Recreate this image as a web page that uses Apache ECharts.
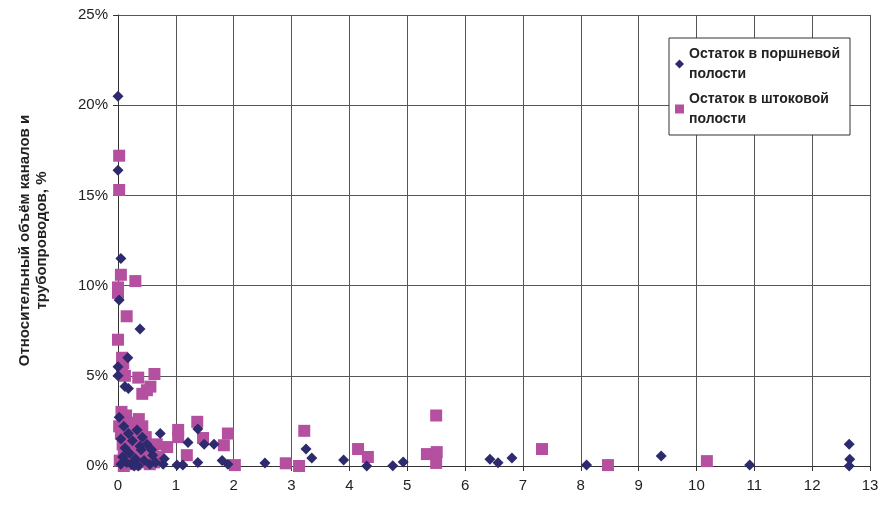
<!DOCTYPE html>
<html>
<head>
<meta charset="utf-8">
<script src="https://cdn.jsdelivr.net/npm/echarts@6/dist/echarts.min.js"></script>
<style>
html, body { margin: 0; padding: 0; background: #fff; }
#chart { width: 882px; height: 509px; }
</style>
</head>
<body>
<div id="chart"></div>
<script>
// остаток в поршневой полости: [x, %]
const pistonData = [
    [0.0, 20.5], [0.0, 16.4], [0.05, 11.5], [0.02, 9.2], [0.38, 7.6],
    [0.17, 6.0], [0.0, 5.5], [0.0, 5.0], [0.12, 4.4], [0.18, 4.3],
    [0.02, 2.7], [0.05, 1.5], [0.08, 0.5], [0.1, 2.2], [0.12, 1.0],
    [0.15, 0.2], [0.18, 1.8], [0.2, 0.7], [0.23, 0.1], [0.25, 1.4],
    [0.3, 0.4], [0.33, 2.0], [0.35, 0.0], [0.4, 0.9], [0.42, 1.6],
    [0.45, 0.3], [0.5, 1.2], [0.55, 0.1], [0.6, 0.6], [0.65, 0.2],
    [0.73, 1.8], [0.78, 0.1], [0.8, 0.4], [0.05, 0.1], [0.28, 0.0],
    [0.38, 1.1], [0.58, 0.9], [1.02, 0.05], [1.12, 0.05], [1.21, 1.3],
    [1.38, 2.05], [1.38, 0.2], [1.49, 1.2], [1.66, 1.2], [1.8, 0.3],
    [1.9, 0.1], [2.54, 0.17], [3.25, 0.94], [3.35, 0.45], [3.9, 0.33],
    [4.3, 0.0], [4.75, 0.02], [4.93, 0.22], [6.43, 0.38], [6.57, 0.18],
    [6.81, 0.45], [8.1, 0.05], [9.39, 0.55], [10.92, 0.05], [12.64, 1.2],
    [12.65, 0.38], [12.64, 0.0]
];
// остаток в штоковой полости: [x, %]
const rodData = [
    [0.02, 17.2], [0.02, 15.3], [0.05, 10.6], [0.3, 10.25], [0.0, 9.9],
    [0.0, 9.6], [0.15, 8.3], [0.0, 7.0], [0.07, 6.0], [0.09, 5.7],
    [0.07, 5.15], [0.12, 5.0], [0.35, 4.9], [0.63, 5.1], [0.56, 4.4],
    [0.42, 4.0], [0.5, 4.2], [0.02, 2.2], [0.05, 1.8], [0.08, 1.2],
    [0.1, 0.8], [0.12, 2.0], [0.15, 0.5], [0.18, 1.5], [0.2, 2.3],
    [0.22, 0.3], [0.25, 1.0], [0.28, 0.6], [0.3, 2.0], [0.33, 1.4],
    [0.36, 2.6], [0.38, 0.2], [0.4, 1.1], [0.42, 2.2], [0.45, 0.7],
    [0.48, 1.6], [0.5, 0.3], [0.52, 1.0], [0.55, 0.1], [0.03, 0.3],
    [0.06, 3.0], [0.1, 0.0], [0.14, 2.8], [0.2, 0.9], [0.26, 1.8],
    [0.3, 0.1], [0.35, 0.5], [0.6, 0.9], [0.67, 1.2], [0.7, 0.5],
    [0.62, 0.2], [0.08, 2.6], [0.17, 1.2], [0.24, 2.4], [0.85, 1.05],
    [1.04, 2.0], [1.04, 1.6], [1.19, 0.6], [1.37, 2.45], [1.47, 1.55],
    [1.83, 1.15], [1.9, 1.8], [2.02, 0.05], [2.9, 0.15], [3.13, 0.0],
    [3.22, 1.95], [4.15, 0.94], [4.32, 0.5], [5.34, 0.66], [5.5, 2.8],
    [5.51, 0.77], [5.5, 0.17], [7.33, 0.94], [8.47, 0.05], [10.18, 0.27]
];
const seriesNames = ['Остаток в поршневой\nполости', 'Остаток в штоковой\nполости'];
const yAxisName = 'Относительный объём каналов и\nтрубопроводов, %';

const chart = echarts.init(document.getElementById('chart'));
const option = {
    animation: false,
    textStyle: { fontFamily: 'Liberation Sans, Arial, sans-serif' },
    grid: { left: 118, right: 12, top: 15, bottom: 43, outerBoundsMode: 'none' },
    legend: {
        orient: 'vertical',
        right: 32,
        top: 38,
        padding: [6, 10, 6, 6],
        itemGap: 5,
        itemWidth: 9,
        itemHeight: 9,
        backgroundColor: '#fff',
        borderColor: '#333',
        borderWidth: 1,
        textStyle: { fontSize: 14, fontWeight: 'bold', color: '#222', lineHeight: 20 },
        data: [
            { name: seriesNames[0], icon: 'diamond' },
            { name: seriesNames[1], icon: 'rect' }
        ]
    },
    xAxis: {
        type: 'value',
        min: 0,
        max: 13,
        interval: 1,
        axisLine: { lineStyle: { color: '#333', width: 1 } },
        axisTick: { show: true, length: 5, lineStyle: { color: '#333' } },
        axisLabel: { fontSize: 15, color: '#222', margin: 12 },
        splitLine: { show: true, lineStyle: { color: '#555', width: 1 } }
    },
    yAxis: {
        type: 'value',
        min: 0,
        max: 25,
        interval: 5,
        name: yAxisName,
        nameLocation: 'middle',
        nameGap: 68,
        nameTextStyle: { fontSize: 15, fontWeight: 'bold', color: '#222', lineHeight: 17 },
        axisLine: { show: true, lineStyle: { color: '#333', width: 1 } },
        axisTick: { show: true, length: 5, lineStyle: { color: '#333' } },
        axisLabel: { fontSize: 15, color: '#222', margin: 10, formatter: '{value}%' },
        splitLine: { show: true, lineStyle: { color: '#555', width: 1 } }
    },
    series: [
        {
            name: seriesNames[0],
            type: 'scatter',
            symbol: 'diamond',
            symbolSize: 11,
            z: 3,
            itemStyle: { color: '#2d2a6e', opacity: 1 },
            data: pistonData
        },
        {
            name: seriesNames[1],
            type: 'scatter',
            symbol: 'rect',
            symbolSize: 12,
            z: 2,
            itemStyle: { color: '#b4509f', opacity: 1 },
            data: rodData
        }
    ]
};
chart.setOption(option);
</script>
</body>
</html>
